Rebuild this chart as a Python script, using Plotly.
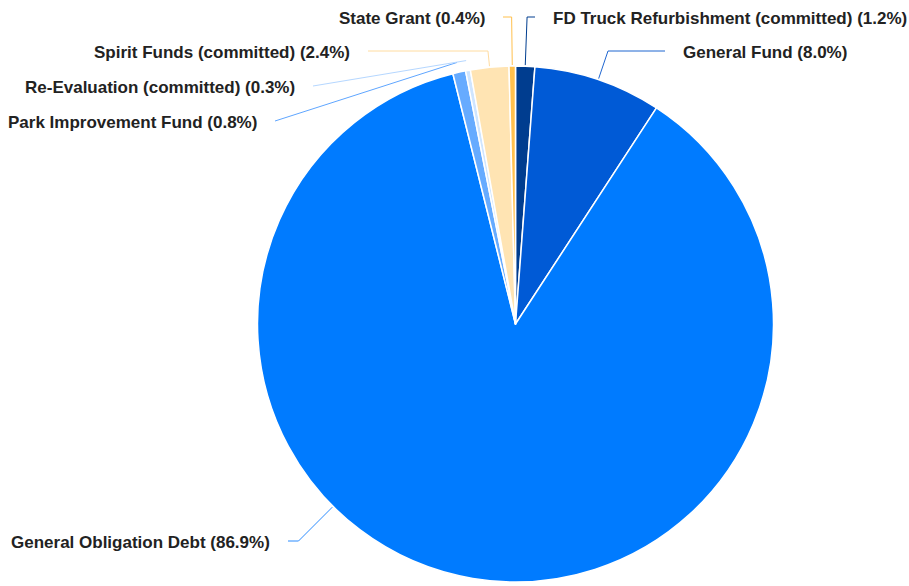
import math
import plotly.graph_objects as go

# ---- data ----
labels = [
    "FD Truck Refurbishment (committed)",
    "General Fund",
    "General Obligation Debt",
    "Park Improvement Fund",
    "Re-Evaluation (committed)",
    "Spirit Funds (committed)",
    "State Grant",
]
values = [1.2, 8.0, 86.9, 0.8, 0.3, 2.4, 0.4]

# ---- styles / layout ----
colors = ["#003d8f", "#005ad6", "#007bff", "#66abff", "#cfe5ff", "#ffe4b3", "#ffc04d"]
line_colors = ["#003d8f", "#1f66d0", "#2b8cff", "#5fa6ff", "#b5d7ff", "#ffdca0", "#ffc04d"]
W, H = 909, 586
CX, CY, R = 515.5, 324.0, 258.0
label_y = [17, 51, 541, 121, 86, 51, 17]
label_x = [551, 681, 272, 259, 297, 352, 487]   # text edge nearest the pie
leader_mode = ["elbow", "elbow", "elbow", "direct", "direct", "elbow", "elbow"]
start_gap = [1, 1, 1, 10, 10, 1, 1]
anchor_override = [None, None, 225.0, None, None, None, None]
GAP = 16

fig = go.Figure()
fig.add_trace(go.Pie(
    labels=labels, values=values, sort=False, direction="clockwise", rotation=0,
    marker=dict(colors=colors, line=dict(color="white", width=1.5)),
    textinfo="none", hoverinfo="label+percent", showlegend=False,
    domain=dict(x=[(CX - R) / W, (CX + R) / W], y=[1 - (CY + R) / H, 1 - (CY - R) / H]),
))

total = sum(values)
cum = 0.0
annotations = []
for i, (lab, v) in enumerate(zip(labels, values)):
    a0 = cum / total * 360.0
    cum += v
    a1 = cum / total * 360.0
    mid = (a0 + a1) / 2.0
    if anchor_override[i] is not None:
        mid = anchor_override[i]
    th = math.radians(mid)
    dx, dy = math.sin(th), -math.cos(th)
    rs = R + start_gap[i]
    sx, sy = CX + rs * dx, CY + rs * dy
    ly = label_y[i]
    right = label_x[i] > CX
    ex = label_x[i] - GAP if right else label_x[i] + GAP
    if leader_mode[i] == "elbow":
        t = (ly - sy) / dy
        bx, by = sx + t * dx, ly
        xs, ys = [sx, bx, ex], [sy, by, ly]
    else:
        xs, ys = [sx, ex], [sy, ly]
    fig.add_trace(go.Scatter(
        x=xs, y=ys, mode="lines", line=dict(color=line_colors[i], width=1),
        hoverinfo="skip", showlegend=False, xaxis="x", yaxis="y",
    ))
    pct = v / total * 100
    annotations.append(dict(
        x=label_x[i], y=ly + 1, xref="x", yref="y", showarrow=False,
        text=f"<b>{lab} ({pct:.1f}%)</b>",
        xanchor="left" if right else "right", yanchor="middle",
        font=dict(family="Liberation Sans, Arial, sans-serif", size=17, color="#222222"),
    ))

fig.update_layout(
    width=W, height=H, margin=dict(l=0, r=0, t=0, b=0),
    paper_bgcolor="white", plot_bgcolor="rgba(0,0,0,0)",
    xaxis=dict(range=[0, W], visible=False, fixedrange=True, domain=[0, 1]),
    yaxis=dict(range=[H, 0], visible=False, fixedrange=True, domain=[0, 1]),
    annotations=annotations,
)
fig.write_html("out.html")
